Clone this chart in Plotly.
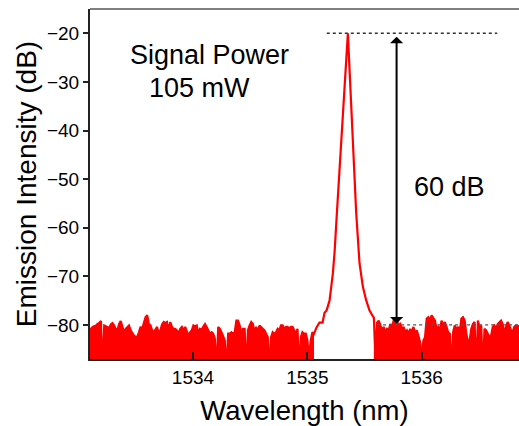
import plotly.graph_objects as go

# ---------------- data ----------------
# noise floor left of the signal peak, sampled uniformly
noise_left_start = 1533.08
noise_step = 0.01444
noise_left_db = [
    -80.8, -80.8, -80.8, -80.4, -80.3, -80.1, -79.8, -79.6, -79.2, -90.0,
    -80.1, -80.3, -80.4, -80.6, -79.9, -79.6, -80.1, -80.8, -81.1, -79.8,
    -79.2, -80.4, -81.5, -80.8, -80.4, -80.1, -81.1, -81.8, -82.2, -82.4,
    -82.5, -81.5, -80.4, -80.8, -79.8, -78.4, -78.0, -79.8, -80.1, -81.1,
    -81.5, -80.8, -80.4, -81.8, -81.1, -79.9, -79.4, -79.6, -79.4, -81.1,
    -79.4, -80.4,
    -80.8, -80.8, -81.1, -81.8, -80.8, -80.4, -81.1, -80.4, -81.5, -82.2,
    -81.5, -81.1, -80.1, -80.3, -80.1, -81.8, -80.8, -81.0, -80.3, -79.8,
    -80.4, -81.1, -81.8, -81.5, -81.8, -82.9, -90.0, -80.4, -80.8, -81.5,
    -82.2, -83.2, -90.0, -81.8, -81.8, -81.5, -81.8, -81.5, -79.1, -79.1,
    -80.1, -81.8, -80.8, -80.8, -90.0, -81.1, -80.1, -79.4, -79.8, -81.5,
    -80.4, -81.5,
    -80.1, -80.4, -80.8, -81.1, -81.8, -82.5, -90.0, -82.5, -81.5, -81.8,
    -81.5, -80.8, -81.1, -80.1, -80.1, -80.8, -80.4, -80.4, -80.8, -80.4,
    -80.4, -81.1, -81.8, -80.8, -90.0, -82.5, -81.5, -81.8, -81.8, -83.2,
    -87.0, -83.2, -81.5, -81.8,
]

# signal peak (wavelength nm, intensity dB)
peak_nm = [1535.080, 1535.106, 1535.133, 1535.150, 1535.168, 1535.194,
           1535.223, 1535.238, 1535.252, 1535.258, 1535.354, 1535.427,
           1535.456, 1535.485, 1535.514, 1535.543, 1535.572]
peak_db = [-80.5, -79.5, -79.5, -77.5, -77.0, -75.0,
           -69.4, -65.0, -60.5, -57.0, -20.0, -57.0,
           -67.3, -72.1, -74.9, -77.0, -78.2]

# noise floor right of the peak
noise_right_start = 1535.581
noise_right_db = [
    -78.5, -86.0, -79.5, -79.1, -80.1, -81.1, -80.4, -81.5, -80.8, -81.1,
    -79.8, -80.4, -79.1, -79.4, -79.1, -80.1, -79.8, -80.8, -80.4, -81.5,
    -81.1, -81.8, -80.8, -81.5, -80.4, -81.8, -81.1, -82.5, -83.5, -87.0,
    -83.2, -82.5, -78.7, -78.4, -79.1,
    -78.0, -78.7, -79.1, -80.8, -80.4, -81.1, -79.1, -80.1, -79.4, -80.4,
    -81.5, -81.8, -90.0, -81.5, -80.1, -80.8, -80.4, -81.5, -78.7, -78.4,
    -79.1, -81.8, -83.5, -83.2, -80.8, -79.8, -79.4, -90.0, -79.1, -80.4,
    -80.1, -90.0, -80.8, -81.1, -81.8, -82.5, -82.2, -80.4, -80.1, -80.8,
    -79.8, -79.4, -79.1, -79.8, -81.8, -80.4, -79.4, -80.1, -81.1, -81.5,
    -80.4, -80.1, -80.4, -80.1,
]

x_ticks = [1534, 1535, 1536]
y_ticks = [-20, -30, -40, -50, -60, -70, -80]

peak_level_db = -20
floor_level_db = -80
label_signal = "Signal Power"
label_power = "105 mW"
label_ratio = "60 dB"

# ---------------- build series ----------------
noise_left_nm = [noise_left_start + i * noise_step for i in range(len(noise_left_db))]
noise_right_nm = [noise_right_start + i * noise_step for i in range(len(noise_right_db))]

x_all = noise_left_nm + peak_nm + noise_right_nm
y_all = noise_left_db + peak_db + noise_right_db

RED = "#ff0000"
FONT = "Liberation Sans, Arial, sans-serif"
BASE = -95

fig = go.Figure()
for xs, ys in ((noise_left_nm, noise_left_db), (noise_right_nm, noise_right_db)):
    fig.add_trace(go.Scatter(
        x=xs + [xs[-1], xs[0]], y=ys + [BASE, BASE],
        mode="lines", fill="toself", fillcolor=RED,
        line=dict(width=0, color=RED), hoverinfo="skip", showlegend=False))
fig.add_trace(go.Scatter(x=x_all, y=y_all, mode="lines",
                         line=dict(color=RED, width=2.2), showlegend=False))

# dotted reference lines
fig.add_shape(type="line", x0=1535.17, x1=1536.66, y0=peak_level_db, y1=peak_level_db,
              xref="x", yref="y", line=dict(color="#333333", width=1.5, dash="dot"))
fig.add_shape(type="line", x0=1535.61, x1=1536.86, y0=floor_level_db, y1=floor_level_db,
              xref="x", yref="y", line=dict(color="#555555", width=1.2, dash="dot"))
# top frame line
fig.add_shape(type="line", x0=0, x1=1, y0=1, y1=1, xref="paper", yref="paper",
              line=dict(color="#555555", width=1.5))

# double arrow
fig.add_annotation(x=1535.78, y=floor_level_db + 0.3, ax=1535.78, ay=peak_level_db - 0.4,
                   xref="x", yref="y", axref="x", ayref="y", text="",
                   showarrow=True, arrowhead=1, startarrowhead=1, arrowside="end+start",
                   arrowwidth=2, arrowsize=1.1, startarrowsize=1.1, arrowcolor="black",
                   standoff=0, startstandoff=0)

fig.add_annotation(x=1533.43, y=-24.5, xref="x", yref="y", text=label_signal,
                   showarrow=False, xanchor="left", yanchor="middle",
                   font=dict(family=FONT, size=27, color="black"))
fig.add_annotation(x=1533.595, y=-31.3, xref="x", yref="y", text=label_power,
                   showarrow=False, xanchor="left", yanchor="middle",
                   font=dict(family=FONT, size=27, color="black"))
fig.add_annotation(x=1535.916, y=-51.6, xref="x", yref="y", text=label_ratio,
                   showarrow=False, xanchor="left", yanchor="middle",
                   font=dict(family=FONT, size=27, color="black"))

fig.update_layout(
    width=519, height=426,
    margin=dict(l=90, r=0, t=9, b=67, autoexpand=False),
    paper_bgcolor="white", plot_bgcolor="white",
    font=dict(family=FONT, color="black"),
    xaxis=dict(range=[1533.1, 1536.85], tickvals=x_ticks, ticktext=[str(v) for v in x_ticks],
               ticks="inside", ticklen=7, tickwidth=1.5, tickcolor="#222",
               showline=True, linecolor="#222", linewidth=2, showgrid=False, zeroline=False,
               tickfont=dict(size=19),
               title=dict(text="Wavelength (nm)", font=dict(size=27.5), standoff=15),
               automargin=False),
    yaxis=dict(range=[-87, -15], tickvals=y_ticks,
               ticks="outside", ticklen=5, tickwidth=1.5, tickcolor="#222",
               showline=True, linecolor="#222", linewidth=2, showgrid=False, zeroline=False,
               tickfont=dict(size=19),
               title=dict(text="Emission Intensity (dB)", font=dict(size=28), standoff=2),
               automargin=False),
)

fig.write_html("out.html",
               config={"displayModeBar": False},
               post_script="document.body.style.margin='0';document.body.style.overflow='hidden';")
